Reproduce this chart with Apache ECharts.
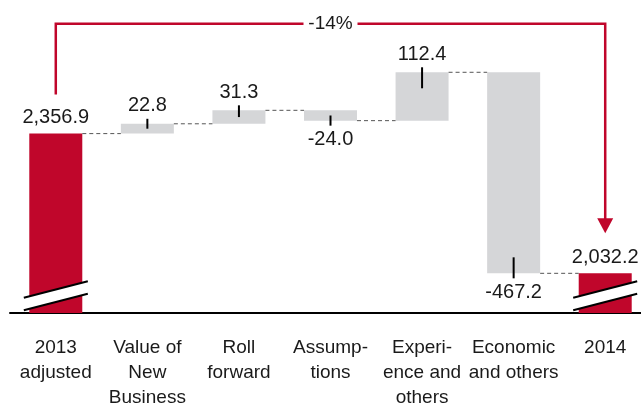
<!DOCTYPE html>
<html>
<head>
<meta charset="utf-8">
<script src="https://cdn.jsdelivr.net/npm/echarts@6/dist/echarts.min.js"></script>
<style>
  html, body { margin: 0; padding: 0; background: #fff; }
  #chart { width: 641px; height: 403px; }
</style>
</head>
<body>
<div id="chart"></div>
<script>
// chart data
var categories = ['2013\nadjusted', 'Value of\nNew\nBusiness', 'Roll\nforward', 'Assump-\ntions', 'Experi-\nence and\nothers', 'Economic\nand others', '2014']
var startTotal = 2356.9
var changes = [22.8, 31.3, -24.0, 112.4, -467.2]
var endTotal = 2032.2
var changeText = '-14%'

var FONT = '"Liberation Sans", Arial, sans-serif'
var RED = '#C0062B'
var GREY = '#D5D6D8'
var BAR_W = 53

// build the waterfall pieces
var baseData = [0]
var barData = [{ value: startTotal, itemStyle: { color: RED }, label: { position: 'top', distance: 6 } }]
var tickData = []
var connectorData = [[0, startTotal]]
var run = startTotal
changes.forEach(function (c, i) {
  var lo = Math.min(run, run + c)
  var hi = Math.max(run, run + c)
  baseData.push(lo)
  barData.push({
    value: hi - lo,
    delta: c,
    itemStyle: { color: GREY },
    label: { position: c >= 0 ? 'top' : 'bottom', distance: c >= 0 ? 8 : 9 }
  })
  tickData.push([i + 1, lo, hi, c >= 0 ? 1 : -1])
  run += c
  connectorData.push([i + 1, run])
})
baseData.push(0)
barData.push({ value: endTotal, itemStyle: { color: RED }, label: { position: 'top', distance: 6 } })

function fmt(v) {
  var s = Math.abs(v).toFixed(1).replace(/\B(?=(\d{3})+(?!\d))/g, ',')
  return (v < 0 ? '-' : '') + s
}

var chart = echarts.init(document.getElementById('chart'))
var option = {
  animation: false,
  grid: { left: 10, right: -10, top: 29, bottom: 90, outerBoundsMode: 'none', containLabel: false },
  xAxis: {
    type: 'category',
    data: categories,
    axisTick: { show: false },
    axisLine: { lineStyle: { color: '#000', width: 2 } },
    axisLabel: { color: '#1a1a1a', fontSize: 19, lineHeight: 25, margin: 22, fontFamily: FONT, interval: 0 }
  },
  yAxis: { type: 'value', min: 1940, max: 2600, show: false, splitLine: { show: false } },
  series: [
    {
      type: 'bar', stack: 'w', barWidth: BAR_W, silent: true,
      itemStyle: { color: 'transparent' },
      data: baseData
    },
    {
      type: 'bar', stack: 'w', barWidth: BAR_W,
      data: barData,
      label: {
        show: true, color: '#1a1a1a', fontSize: 20, fontFamily: FONT,
        formatter: function (p) {
          return fmt(p.data.delta !== undefined ? p.data.delta : p.data.value)
        }
      }
    },
    // dashed connectors between bars
    {
      type: 'custom', z: 3,
      data: connectorData,
      renderItem: function (params, api) {
        var a = api.coord([api.value(0), api.value(1)])
        var b = api.coord([api.value(0) + 1, api.value(1)])
        return {
          type: 'line',
          shape: { x1: a[0] + BAR_W / 2, y1: a[1], x2: b[0] - BAR_W / 2, y2: b[1] },
          style: { stroke: '#555', lineWidth: 1, lineDash: [4, 3] }
        }
      }
    },
    // leader ticks on the change bars
    {
      type: 'custom', z: 4,
      data: tickData,
      renderItem: function (params, api) {
        var top = api.coord([api.value(0), api.value(2)])
        var bot = api.coord([api.value(0), api.value(1)])
        var inside = Math.min((bot[1] - top[1]) / 2, 16)
        var y1, y2
        if (api.value(3) > 0) { y1 = top[1] - 5; y2 = top[1] + inside }
        else { y1 = bot[1] + 5; y2 = bot[1] - inside }
        return {
          type: 'line',
          shape: { x1: top[0], y1: y1, x2: top[0], y2: y2 },
          style: { stroke: '#000', lineWidth: 2 }
        }
      }
    },
    // axis break marks on the total bars
    {
      type: 'custom', z: 5,
      data: [[0], [categories.length - 1]],
      renderItem: function (params, api) {
        var p = api.coord([api.value(0), 1940])
        var x = p[0], y = p[1]
        var w = 32, s = 8.25
        var yUp = y - 23.5, yLo = y - 11
        return {
          type: 'group',
          children: [
            {
              type: 'polygon',
              shape: { points: [[x - w, yUp + s], [x + w, yUp - s], [x + w, yLo - s], [x - w, yLo + s]] },
              style: { fill: '#fff' }
            },
            { type: 'line', shape: { x1: x - w, y1: yUp + s, x2: x + w, y2: yUp - s }, style: { stroke: '#000', lineWidth: 2 } },
            { type: 'line', shape: { x1: x - w, y1: yLo + s, x2: x + w, y2: yLo - s }, style: { stroke: '#000', lineWidth: 2 } }
          ]
        }
      }
    },
    // bracket with the overall change
    {
      type: 'custom', z: 5,
      data: [[0, categories.length - 1]],
      renderItem: function (params, api) {
        var a = api.coord([api.value(0), startTotal])
        var b = api.coord([api.value(1), endTotal])
        var yTop = api.coord([0, 2612])[1]
        var mid = (a[0] + b[0]) / 2
        var gap = 27
        var tip = b[1] - 40
        var ls = { stroke: RED, lineWidth: 2.5 }
        return {
          type: 'group',
          children: [
            { type: 'polyline', shape: { points: [[a[0], a[1] - 39], [a[0], yTop], [mid - gap, yTop]] }, style: Object.assign({ fill: null }, ls) },
            { type: 'polyline', shape: { points: [[mid + gap, yTop], [b[0], yTop], [b[0], tip - 14]] }, style: Object.assign({ fill: null }, ls) },
            { type: 'polygon', shape: { points: [[b[0] - 8, tip - 15], [b[0] + 8, tip - 15], [b[0], tip]] }, style: { fill: RED } },
            {
              type: 'text',
              style: { text: changeText, x: mid, y: yTop, align: 'center', verticalAlign: 'middle', fill: '#1a1a1a', font: '19px ' + FONT }
            }
          ]
        }
      }
    }
  ]
}
chart.setOption(option)
</script>
</body>
</html>
